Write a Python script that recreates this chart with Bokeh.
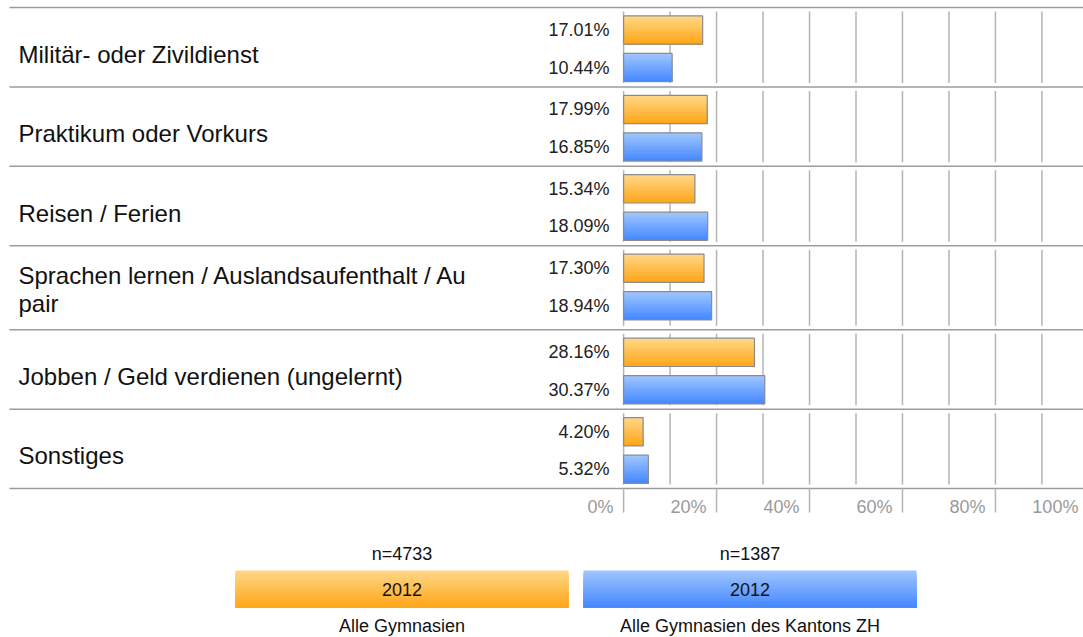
import numpy as np
from bokeh.plotting import figure
from bokeh.models import Range1d
from bokeh.embed import file_html
from bokeh.resources import INLINE
from bokeh.core.properties import value

# ---------------- data ----------------
categories = [
    "Militär- oder Zivildienst",
    "Praktikum oder Vorkurs",
    "Reisen / Ferien",
    "Sprachen lernen / Auslandsaufenthalt / Au\npair",
    "Jobben / Geld verdienen (ungelernt)",
    "Sonstiges",
]
alle_gymnasien = [17.01, 17.99, 15.34, 17.30, 28.16, 4.20]
gymnasien_zh = [10.44, 16.85, 18.09, 18.94, 30.37, 5.32]
series_names = ["Alle Gymnasien", "Alle Gymnasien des Kantons ZH"]
series_n = ["n=4733", "n=1387"]
series_year = ["2012", "2012"]
x_ticks = [0, 20, 40, 60, 80, 100]
x_tick_labels = ["0%", "20%", "40%", "60%", "80%", "100%"]
grid_steps = [0, 10, 20, 30, 40, 50, 60, 70, 80, 90, 100]

# ---------------- styling / layout ----------------
FONT = value("Liberation Sans")
W, H = 1083, 637
PX = 4.648          # pixels per percent
X0 = 623.1          # pixel position of 0 %
def dx(px):          # pixel offset -> data units
    return px / PX
def fx(px):          # figure pixel x -> data x
    return (px - X0) / PX

grad_orange = ("#FFD684", "#FFA71A")
grad_blue = ("#9DC5FF", "#4689FF")
outline = "#8C8C8C"
sep_color = "#9C9C9C"
grid_color = "#B4B4B4"

p = figure(width=W, height=H, output_backend="svg", toolbar_location=None,
           x_range=Range1d(fx(0), fx(W)), y_range=Range1d(H, 0),
           x_axis_location=None, y_axis_location=None, min_border=0,
           background_fill_color="white", border_fill_color="white")
p.outline_line_color = None
p.xgrid.visible = False
p.ygrid.visible = False


def hex2rgb(h):
    return np.array([int(h[i:i + 2], 16) for i in (1, 3, 5)], dtype=float)


def gradient_bar(left, right, top, h, grad, n=14):
    c0, c1 = hex2rgb(grad[0]), hex2rgb(grad[1])
    ls, rs, ts, bs, cs = [], [], [], [], []
    for k in range(n):
        t = k / (n - 1)
        c = c0 + (c1 - c0) * t
        ls.append(left); rs.append(right)
        ts.append(top + k * h / n); bs.append(top + h)
        cs.append("#%02x%02x%02x" % tuple(int(round(v)) for v in c))
    p.quad(left=ls, right=rs, top=ts, bottom=bs, fill_color=cs, line_color=None)


# rows
lines_per_cat = [c.split("\n") for c in categories]
row_h = [79.4 + 4.7 * (len(l) - 1) for l in lines_per_cat]
row_top = [7.0]
for h in row_h:
    row_top.append(row_top[-1] + h)

# separators
p.segment(x0=[fx(9)] * len(row_top), x1=[fx(W)] * len(row_top),
          y0=row_top, y1=row_top, line_color=sep_color, line_width=1.5)

# gridlines per row
gx0, gy0, gy1 = [], [], []
for i in range(len(categories)):
    for g in grid_steps:
        gx0.append(g); gy0.append(row_top[i] + 4); gy1.append(row_top[i + 1] - 4)
p.segment(x0=gx0, x1=gx0, y0=gy0, y1=gy1, line_color=grid_color, line_width=1.5)

# ticks below
base = row_top[-1]
p.segment(x0=x_ticks, x1=x_ticks, y0=[base] * len(x_ticks), y1=[base + 24] * len(x_ticks),
          line_color=grid_color, line_width=1.5)
p.text(x=[t - dx(10) for t in x_ticks], y=[base + 18] * len(x_ticks), text=x_tick_labels,
       text_font=FONT, text_font_size="18px", text_color="#9a9a9a",
       text_align="right", text_baseline="middle")

# bars
BAR_H = 28.3
vx, vy, vt = [], [], []
for i in range(len(categories)):
    top = row_top[i]
    for val, off, grad in ((alle_gymnasien[i], 8.4, grad_orange), (gymnasien_zh[i], 45.9, grad_blue)):
        gradient_bar(0, val, top + off, BAR_H, grad)
        p.quad(left=[0], right=[val], top=[top + off], bottom=[top + off + BAR_H],
               fill_alpha=0, line_color=outline, line_width=1.2)
        vx.append(-dx(14)); vy.append(top + off + BAR_H / 2); vt.append("%.2f%%" % val)
p.text(x=vx, y=vy, text=vt, text_font=FONT, text_font_size="18px", text_color="#222222",
       text_align="right", text_baseline="middle")

# category labels
cx, cy, ct = [], [], []
for i, lines in enumerate(lines_per_cat):
    center = (row_top[i] + row_top[i + 1]) / 2
    first = center + 7.0 - (len(lines) - 1) * 19.6
    for k, ln in enumerate(lines):
        cx.append(fx(18)); cy.append(first + k * 28.4); ct.append(ln)
p.text(x=cx, y=cy, text=ct, text_font=FONT, text_font_size="24px", text_color="#111111",
       text_align="left", text_baseline="middle")

# legend
LEG_L, BOX_W, GAP = 235, 333, 15
BOX_T, BOX_H = 570, 37
lx, ly, lt = [], [], []
for j, grad in enumerate((grad_orange, grad_blue)):
    l = LEG_L + j * (BOX_W + GAP)
    gradient_bar(fx(l), fx(l + BOX_W), BOX_T, BOX_H, grad, n=18)
    cxx = fx(l + BOX_W / 2)
    lx += [cxx, cxx, cxx]
    ly += [BOX_T - 17, BOX_T + BOX_H / 2, BOX_T + BOX_H + 18]
    lt += [series_n[j], series_year[j], series_names[j]]
p.text(x=lx, y=ly, text=lt, text_font=FONT, text_font_size="18px", text_color="#111111",
       text_align="center", text_baseline="middle")

open("out.html", "w").write(file_html(p, INLINE))
